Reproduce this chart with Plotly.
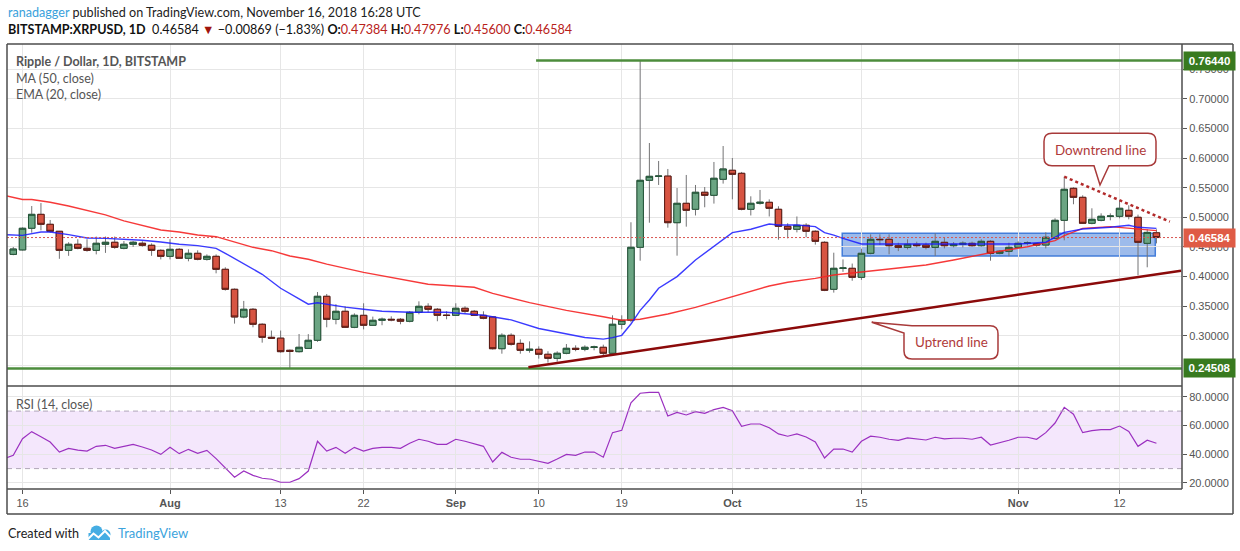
import plotly.graph_objects as go
from datetime import date, datetime, timedelta

# ---------------- data ----------------
start_day = date(2018, 7, 15)
dates = [(start_day + timedelta(days=i)).isoformat() for i in range(125)]

opens = [
    .4375, .4450, .4815, .5050, .4882, .4764, .4443, .4545, .4477, .4443, .4545, .4579, .4477, .4545, .4562, .4528, .4443,
    .4342, .4460, .4309, .4393, .4292, .4342, .4123, .3786, .3319, .3449, .3196, .2976, .2962, .2757, .2734, .2790, .2926,
    .3668, .3280, .3415, .3145, .3347, .3179, .3263, .3280, .3280, .3247, .3398, .3499, .3449, .3350,
    .3347, .3466, .3415, .3347, .3319, .2784, .3010, .2874, .2757, .2774, .2690, .2622, .2707, .2791, .2774, .2808, .2808,
    .2707, .3196, .3263, .4494, .5624, .5691, .5695, .4909, .5236, .5135, .5422, .5371, .5641,
    .5793, .5742, .5135, .5236, .5253, .5135, .4848, .4798, .4865, .4764, .4578, .3786, .4140, .4140, .3988, .4393, .4629,
    .4629, .4521, .4493, .4544, .4532, .4493, .4578, .4521, .4544, .4561, .4521, .4595, .4393, .4427,
    .4493, .4561, .4556, .4533, .4646, .4949, .5489, .5337, .4899, .4949, .5017, .5017, .5118, .5000, .4561, .47384]
highs = [
    .4500, .4830, .5190, .5240, .4955, .4770, .4580, .4630, .4630, .4675, .4675, .4675, .4600, .4600, .4596, .4560, .4460,
    .4630, .4480, .4460, .4443, .4375, .4375, .4157, .3800, .3590, .3470, .3213, .3090, .3090, .2770, .3032, .3030, .3740,
    .3707, .3535, .3500, .3380, .3550, .3325, .3310, .3330, .3300, .3420, .3583, .3550, .3470, .3415,
    .3550, .3500, .3437, .3415, .3330, .3044, .3044, .2942, .2908, .2824, .2741, .2740, .2863, .2841, .2841, .2836, .2852,
    .3347, .3347, .4916, .7644, .6253, .5950, .5815, .5494, .5714, .5545, .5511, .5933, .6202,
    .6000, .5765, .5354, .5461, .5303, .5186, .4900, .5014, .4900, .4780, .4595, .4403, .4290, .4220, .4470, .4713, .4713,
    .4713, .4572, .4629, .4589, .4572, .4730, .4662, .4583, .4595, .4589, .4629, .4612, .4443, .4572,
    .4595, .4595, .4561, .4747, .4983, .5685, .5506, .5371, .5152, .5067, .5067, .5287, .5203, .5045, .4798, .47976]
lows = [
    .4360, .4440, .4740, .4780, .4740, .4300, .4350, .4460, .4420, .4375, .4400, .4470, .4460, .4500, .4505, .4350, .4290,
    .4290, .4305, .4258, .4275, .4270, .4055, .3764, .3207, .3297, .3145, .2886, .2950, .2717, .2451, .2720, .2780, .2900,
    .3145, .3195, .3135, .3130, .3110, .3175, .3180, .3247, .3196, .3229, .3364, .3398, .3247, .3280,
    .3340, .3380, .3336, .3280, .2770, .2700, .2836, .2700, .2717, .2617, .2549, .2566, .2690, .2741, .2741, .2757, .2673,
    .2673, .3112, .3229, .4268, .4909, .5545, .4825, .4353, .4842, .5031, .5169, .5231, .5568,
    .5303, .5118, .5031, .5214, .5014, .4622, .4645, .4746, .4662, .4539, .3755, .3730, .4080, .3930, .3945, .4376, .4533,
    .4376, .4430, .4459, .4493, .4459, .4348, .4476, .4493, .4493, .4504, .4504, .4268, .4376, .4343,
    .4476, .4527, .4504, .4476, .4629, .4612, .5220, .4888, .4882, .4932, .4949, .4983, .4966, .4022, .4157, .45600]
closes = [
    .4465, .4815, .5050, .4882, .4764, .4443, .4545, .4477, .4443, .4562, .4579, .4494, .4545, .4579, .4528, .4443, .4342,
    .4460, .4309, .4393, .4292, .4342, .4123, .3786, .3319, .3449, .3196, .2976, .2962, .2734, .2740, .2808, .2926, .3668,
    .3280, .3415, .3145, .3347, .3179, .3263, .3280, .3270, .3247, .3398, .3499, .3449, .3347, .3345,
    .3466, .3415, .3347, .3297, .2784, .3010, .2858, .2757, .2774, .2690, .2622, .2707, .2791, .2774, .2808, .2813, .2707,
    .3196, .3263, .4494, .5624, .5691, .5695, .4909, .5236, .5118, .5422, .5371, .5658, .5815,
    .5725, .5135, .5236, .5253, .5152, .4848, .4798, .4865, .4764, .4595, .3769, .4140, .4145, .3988, .4393, .4629, .4623,
    .4521, .4493, .4544, .4521, .4493, .4595, .4521, .4544, .4561, .4521, .4595, .4393, .4427, .4493,
    .4561, .4567, .4533, .4663, .4949, .5472, .5337, .4899, .4966, .5017, .5020, .5152, .5017, .4578, .47453, .46584]

ma50_dates = ["2018-07-14", "2018-07-16", "2018-07-17", "2018-07-19", "2018-07-21", "2018-07-23", "2018-07-25",
              "2018-07-27", "2018-07-29", "2018-07-31", "2018-08-02", "2018-08-04", "2018-08-06", "2018-08-08",
              "2018-08-10", "2018-08-12", "2018-08-14", "2018-08-16", "2018-08-18", "2018-08-22", "2018-08-26",
              "2018-08-29", "2018-09-03", "2018-09-05", "2018-09-09", "2018-09-13", "2018-09-17", "2018-09-19",
              "2018-09-21", "2018-09-24", "2018-09-27", "2018-09-30", "2018-10-05", "2018-10-07", "2018-10-10",
              "2018-10-12", "2018-10-15", "2018-10-18", "2018-10-22", "2018-10-25", "2018-10-29", "2018-11-02",
              "2018-11-05", "2018-11-06", "2018-11-08", "2018-11-11", "2018-11-13", "2018-11-16"]
ma50_vals = [0.537, 0.530, 0.530, 0.5253, 0.519, 0.511, 0.504, 0.494, 0.4865, 0.4786, 0.4752, 0.4702, 0.4673, 0.4583,
             0.4494, 0.4437, 0.4347, 0.4292, 0.4210, 0.4071, 0.3953, 0.3870, 0.3820, 0.3718, 0.3560, 0.3430, 0.3322,
             0.3263, 0.3280, 0.3370, 0.3480, 0.3617, 0.3842, 0.3904, 0.3970, 0.4028, 0.4075, 0.4128, 0.4196, 0.4280,
             0.4403, 0.4504, 0.4607, 0.4690, 0.4814, 0.4842, 0.4814, 0.4775]

ema20_dates = ["2018-07-14", "2018-07-16", "2018-07-18", "2018-07-19", "2018-07-21", "2018-07-23", "2018-07-25",
               "2018-07-27", "2018-07-29", "2018-07-31", "2018-08-02", "2018-08-04", "2018-08-06", "2018-08-07",
               "2018-08-09", "2018-08-11", "2018-08-13", "2018-08-15", "2018-08-16", "2018-08-17", "2018-08-20",
               "2018-08-22", "2018-08-24", "2018-08-27", "2018-08-31", "2018-09-04", "2018-09-07", "2018-09-10",
               "2018-09-13", "2018-09-15", "2018-09-17", "2018-09-18", "2018-09-19", "2018-09-20", "2018-09-21",
               "2018-09-22", "2018-09-23", "2018-09-25", "2018-09-27", "2018-09-29", "2018-09-30", "2018-10-01",
               "2018-10-03", "2018-10-05", "2018-10-06", "2018-10-08", "2018-10-10", "2018-10-11", "2018-10-12",
               "2018-10-13", "2018-10-15", "2018-10-18", "2018-10-22", "2018-10-25", "2018-10-28", "2018-10-30",
               "2018-11-01", "2018-11-04", "2018-11-05", "2018-11-06", "2018-11-08", "2018-11-11", "2018-11-13",
               "2018-11-14", "2018-11-16"]
ema20_vals = [0.4707, 0.4696, 0.4752, 0.4752, 0.4707, 0.4651, 0.4645, 0.4634, 0.4612, 0.4583, 0.4545, 0.4522, 0.4477,
              0.4393, 0.4218, 0.4039, 0.3803, 0.3617, 0.3534, 0.3560, 0.3485, 0.3449, 0.3415, 0.3398, 0.3398, 0.3347,
              0.3270, 0.3125, 0.3029, 0.2972, 0.2945, 0.2970, 0.3010, 0.3200, 0.3430, 0.3605, 0.3803, 0.4000, 0.4280,
              0.4510, 0.4640, 0.4741, 0.4798, 0.4887, 0.4870, 0.4870, 0.4842, 0.4741, 0.4700, 0.4645, 0.4550, 0.4550,
              0.4550, 0.4550, 0.4545, 0.4538, 0.4550, 0.4580, 0.4663, 0.4747, 0.4803, 0.4831, 0.4865, 0.4831, 0.4814]

rsi_dates = [(date(2018, 7, 14) + timedelta(days=i)).isoformat() for i in range(126)]
rsi_vals = [
    37.0, 39.2, 50.8, 55.7, 52.2, 48.5, 41.5, 44.1, 42.9, 42.2, 45.5, 46.2, 44.1, 45.5, 46.9, 45.0, 42.9, 39.9,
    44.8, 40.4, 43.4, 40.6, 42.7, 36.9, 30.6, 24.0, 28.3, 25.3, 23.3, 22.6, 20.5, 20.5, 23.0, 28.3, 49.0, 42.2,
    44.8, 40.6, 44.8, 42.2, 44.1, 44.8, 44.8, 44.1, 47.6, 50.4, 49.0, 46.9, 46.9,
    50.4, 49.0, 47.2, 45.5, 34.6, 41.3, 37.9, 36.5, 36.5, 35.1, 33.7, 36.7, 39.9, 39.2, 41.5, 41.5, 37.9, 55.0,
    56.6, 75.8, 82.4, 83.0, 83.0, 66.6, 69.1, 67.3, 69.6, 68.4, 71.0, 72.6,
    70.3, 59.4, 61.0, 61.0, 58.4, 54.1, 52.5, 54.1, 52.0, 48.5, 37.4, 43.6, 43.6, 41.5, 49.0, 52.5, 51.8, 50.4,
    49.7, 51.3, 50.7, 49.9, 51.8, 50.7, 51.1, 51.1, 50.4, 51.8, 46.4, 47.8, 49.7,
    51.8, 51.8, 50.4, 55.0, 61.7, 72.6, 67.8, 55.0, 56.4, 57.1, 57.1, 59.6, 55.9, 45.5, 49.7, 47.6]

x_tick_dates = ["2018-07-16", "2018-08-01", "2018-08-13", "2018-08-22", "2018-09-01", "2018-09-10",
                "2018-09-19", "2018-10-01", "2018-10-15", "2018-11-01", "2018-11-12"]
x_tick_text = ["16", "<b>Aug</b>", "13", "22", "<b>Sep</b>", "10", "19", "<b>Oct</b>", "15", "<b>Nov</b>", "12"]
price_ticks = [0.30, 0.35, 0.40, 0.45, 0.50, 0.55, 0.60, 0.65, 0.70, 0.75]
rsi_ticks = [20, 40, 60, 80]

resistance = 0.76440
support = 0.24508
last_price = 0.46584

# ---------------- geometry helpers (pixel -> paper) ----------------
W, H = 1240, 551
L, R, T, B = 7, 1182, 44, 489
SEP = 386


def px(x):
    return (x - L) / (R - L)


def py(y):
    return (B - y) / (B - T)


def P(x, y):
    return f"{px(x):.5f},{py(y):.5f}"


def price_at(y):
    return 0.5 + (217.3 - y) / 593.0


def rsi_at(y):
    return 80 - (y - 396.7) / 1.438


base = datetime(2018, 7, 16)


def xd(x):
    return (base + timedelta(days=(x - 22.5) / 9.219)).strftime('%Y-%m-%d %H:%M:%S')


TICKFONT = dict(family="Liberation Sans, Arial", size=11, color="#555555")
TXT = "Lato, Open Sans, sans-serif"

fig = go.Figure()

# wicks (grey) underneath
fig.add_trace(go.Candlestick(
    x=dates, open=opens, high=highs, low=lows, close=closes,
    increasing=dict(line=dict(color="#737375", width=1), fillcolor="#737375"),
    decreasing=dict(line=dict(color="#737375", width=1), fillcolor="#737375"),
    whiskerwidth=0, hoverinfo="skip", xaxis="x", yaxis="y"))
# bodies
body_hi = [max(o, c) for o, c in zip(opens, closes)]
body_lo = [min(o, c) for o, c in zip(opens, closes)]
fig.add_trace(go.Candlestick(
    x=dates, open=opens, high=body_hi, low=body_lo, close=closes,
    increasing=dict(line=dict(color="#225437", width=1), fillcolor="#6ba583"),
    decreasing=dict(line=dict(color="#5b1a13", width=1), fillcolor="#d75442"),
    whiskerwidth=0, hoverinfo="skip", xaxis="x", yaxis="y"))

fig.add_trace(go.Scatter(x=ma50_dates, y=ma50_vals, mode="lines",
                         line=dict(color="rgba(245,35,35,0.9)", width=1.4), xaxis="x", yaxis="y"))
fig.add_trace(go.Scatter(x=ema20_dates, y=ema20_vals, mode="lines",
                         line=dict(color="rgba(25,25,255,0.85)", width=1.4), xaxis="x", yaxis="y"))
fig.add_trace(go.Scatter(x=rsi_dates, y=rsi_vals, mode="lines",
                         line=dict(color="#9b30c0", width=1.2), xaxis="x2", yaxis="y2"))

shapes = []
# 0.25 gridline (its label is hidden behind the support label)
shapes.append(dict(type="line", xref="paper", yref="y", x0=0, x1=1, y0=0.25, y1=0.25,
                   line=dict(color="#e6e6e6", width=1), layer="below"))
# RSI band
shapes.append(dict(type="rect", xref="paper", yref="y2", x0=0, x1=1, y0=30, y1=70,
                   fillcolor="rgba(155,40,230,0.11)", line=dict(width=0), layer="below"))
for lv in (30, 70):
    shapes.append(dict(type="line", xref="paper", yref="y2", x0=0, x1=1, y0=lv, y1=lv,
                       line=dict(color="#b0a6b8", width=1, dash="5px,4px")))
# consolidation rectangle
shapes.append(dict(type="rect", xref="x", yref="y", x0="2018-10-12 22:00", x1="2018-11-15 21:00",
                   y0=0.4347, y1=0.473, fillcolor="rgba(60,120,216,0.5)",
                   line=dict(color="rgba(60,120,216,0.95)", width=1.5), layer="below"))
# support/resistance
shapes.append(dict(type="line", xref="x", yref="y", x0="2018-09-09 17:00", x1=xd(R), y0=resistance, y1=resistance,
                   line=dict(color="#4c8c3c", width=2.5)))
shapes.append(dict(type="line", xref="x", yref="y", x0=xd(L), x1=xd(R), y0=support, y1=support,
                   line=dict(color="#4c8c3c", width=2.5)))
# last price line
shapes.append(dict(type="line", xref="paper", yref="y", x0=0, x1=1, y0=last_price, y1=last_price,
                   line=dict(color="#d9534f", width=1, dash="2px,2px")))
# trend lines
shapes.append(dict(type="line", xref="x", yref="y", x0="2018-09-08 21:00", y0=0.247, x1="2018-11-18 16:00", y1=0.410,
                   line=dict(color="#8b0a0a", width=2.5)))
shapes.append(dict(type="line", xref="x", yref="y", x0="2018-11-06", y0=0.5685, x1="2018-11-17 11:00", y1=0.4926,
                   line=dict(color="#b22a2a", width=2.5, dash="dot")))

# callout bubbles
r = 8
x0, x1, y0, y1 = 1044, 1156, 133.3, 165.7
down_path = (f"M {P(x0+r,y0)} L {P(x1-r,y0)} Q {P(x1,y0)} {P(x1,y0+r)} L {P(x1,y1-r)} Q {P(x1,y1)} {P(x1-r,y1)} "
             f"L {P(1109,y1)} L {P(1100,185)} L {P(1094,y1)} L {P(x0+r,y1)} Q {P(x0,y1)} {P(x0,y1-r)} "
             f"L {P(x0,y0+r)} Q {P(x0,y0)} {P(x0+r,y0)} Z")
shapes.append(dict(type="path", xref="paper", yref="paper", path=down_path, fillcolor="white",
                   line=dict(color="#a83a3a", width=1.5)))
x0, x1, y0, y1 = 904, 998, 325.7, 359
up_path = (f"M {P(912,y0)} L {P(x1-r,y0)} Q {P(x1,y0)} {P(x1,y0+r)} L {P(x1,y1-r)} Q {P(x1,y1)} {P(x1-r,y1)} "
           f"L {P(x0+r,y1)} Q {P(x0,y1)} {P(x0,y1-r)} L {P(x0,333)} L {P(871.7,322.3)} Z")
shapes.append(dict(type="path", xref="paper", yref="paper", path=up_path, fillcolor="white",
                   line=dict(color="#a83a3a", width=1.5)))

# frame
FR = "#4d4d4d"
xr = px(1233)
yb = py(514)
for (a, b, c, d) in [(0, py(T), xr, py(T)), (0, py(T), 0, yb), (xr, py(T), xr, yb), (0, yb, xr, yb),
                     (1, py(T), 1, 0), (0, py(SEP), 1, py(SEP)), (0, 0, 1, 0)]:
    shapes.append(dict(type="line", xref="paper", yref="paper", x0=a, y0=b, x1=c, y1=d,
                       line=dict(color=FR, width=1.5)))

# TradingView logo
LOGO = "#45ade3"
shapes.append(dict(type="circle", xref="paper", yref="paper", x0=px(90.5), x1=px(102.5), y0=py(537.5), y1=py(525.5),
                   fillcolor=LOGO, line=dict(width=0)))
shapes.append(dict(type="circle", xref="paper", yref="paper", x0=px(101), x1=px(110.5), y0=py(539), y1=py(529.5),
                   fillcolor=LOGO, line=dict(width=0)))
shapes.append(dict(type="rect", xref="paper", yref="paper", x0=px(88.5), x1=px(110), y0=py(540), y1=py(533),
                   fillcolor=LOGO, line=dict(width=0)))
shapes.append(dict(type="path", xref="paper", yref="paper",
                   path=f"M {P(87,540)} L {P(93.5,533.5)} L {P(98.5,537.5)} L {P(105,531)} L {P(112,538.5)}",
                   line=dict(color="white", width=2)))

ann = []


def txt(x, y, s, size=13, color="#333", anchor="left", family=TXT):
    ann.append(dict(xref="paper", yref="paper", x=px(x), y=py(y), text=s, showarrow=False,
                    xanchor=anchor, yanchor="middle", font=dict(family=family, size=size, color=color)))


VAL = "#b8211a"
txt(5.5, 12, "<span style='color:#39a1dc'>ranadagger</span> published on TradingView.com, November 16, 2018 16:28 UTC",
    size=12.6, color="#222")
txt(5.5, 29.5, "<b>BITSTAMP:XRPUSD, 1D</b>  0.46584 <span style='color:#a0140c'>▼</span> −0.00869 (−1.83%) "
    f"<b>O:</b><span style='color:{VAL}'>0.47384</span> <b>H:</b><span style='color:{VAL}'>0.47976</span> "
    f"<b>L:</b><span style='color:{VAL}'>0.45600</span> <b>C:</b><span style='color:{VAL}'>0.46584</span>",
    size=12.6, color="#111")
txt(13.5, 61, "<b>Ripple / Dollar, 1D, BITSTAMP</b>", size=12.5, color="#555")
txt(13.5, 78.7, "MA (50, close)", size=12.5, color="#555")
txt(13.5, 94.3, "EMA (20, close)", size=12.5, color="#555")
txt(13.5, 404, "RSI (14, close)", size=12.5, color="#555")
txt(5.5, 533, "Created with", size=12.6, color="#222")
txt(115.5, 533, "TradingView", size=13, color="#3ba3dd")
txt(1100, 149.5, "Downtrend line", size=13.4, color="#b03a3a", anchor="center")
txt(951, 342.3, "Uptrend line", size=13.4, color="#b03a3a", anchor="center")

for val, bg in [(resistance, "#387a1f"), (support, "#387a1f"), (last_price, "#df5b45")]:
    ann.append(dict(xref="paper", yref="y", x=1, y=val, xanchor="left", yanchor="middle", xshift=1,
                    text=f"<b>{val:.5f}</b>", showarrow=False, bgcolor=bg, borderpad=3, width=45,
                    font=dict(family="Liberation Sans, Arial", size=11.5, color="white")))

fig.update_layout(
    width=W, height=H, autosize=False,
    margin=dict(l=L, r=W - R, t=T, b=H - B, pad=0),
    paper_bgcolor="white", plot_bgcolor="white",
    showlegend=False, hovermode=False,
    boxgap=0.3, boxgroupgap=0,
    shapes=shapes, annotations=ann,
    xaxis=dict(domain=[0, 1], anchor="y", type="date", range=[xd(L), xd(R)],
               tickvals=x_tick_dates, ticktext=x_tick_text, showticklabels=False,
               showgrid=True, gridcolor="#e6e6e6", gridwidth=1, zeroline=False,
               rangeslider=dict(visible=False), showline=False),
    xaxis2=dict(domain=[0, 1], anchor="y2", type="date", matches="x", range=[xd(L), xd(R)],
                tickvals=x_tick_dates, ticktext=x_tick_text, ticks="outside", ticklen=4,
                tickcolor="#555", tickfont=TICKFONT, showgrid=True, gridcolor="#e6e6e6",
                zeroline=False, showline=False),
    yaxis=dict(domain=[py(SEP), 1], anchor="x", side="right", range=[price_at(SEP), price_at(T)],
               tickvals=price_ticks, tickformat=".5f", ticks="outside", ticklen=4, tickcolor="#555",
               tickfont=TICKFONT, showgrid=True, gridcolor="#e6e6e6", zeroline=False, showline=False),
    yaxis2=dict(domain=[0, py(SEP)], anchor="x2", side="right", range=[rsi_at(B), rsi_at(SEP)],
                tickvals=rsi_ticks, tickformat=".4f", ticks="outside", ticklen=4, tickcolor="#555",
                tickfont=TICKFONT, showgrid=True, gridcolor="#e6e6e6", zeroline=False, showline=False),
)

fig.write_html("out.html", config={"displayModeBar": False, "staticPlot": True},
               post_script="document.body.style.margin='0';document.body.style.overflow='hidden';")
